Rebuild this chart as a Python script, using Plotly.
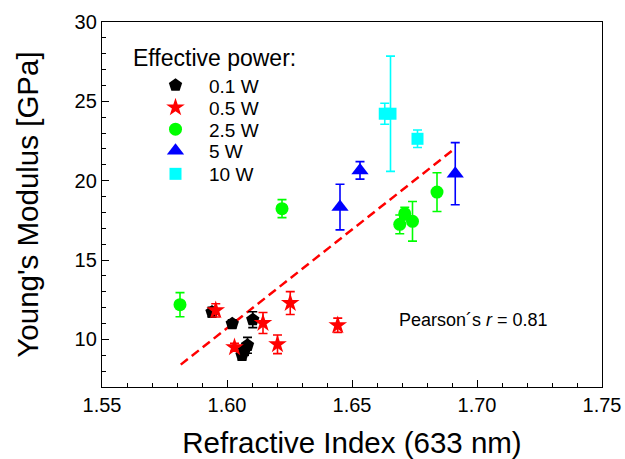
import plotly.graph_objects as go

# ---- data ----
x_01 = [1.5940, 1.6021, 1.6103, 1.6060, 1.6070, 1.6082]
y_01 = [11.72, 10.99, 11.24, 9.00, 9.30, 9.63]
e_01 = [0.30, 0.25, 0.50, 0.30, 0.30, 0.50]

x_05 = [1.5955, 1.6030, 1.6144, 1.6202, 1.6253, 1.6443]
y_05 = [11.83, 9.50, 11.03, 9.69, 12.29, 10.89]
e_05 = [0.42, 0.25, 0.66, 0.59, 0.72, 0.45]

x_25 = [1.5812, 1.6220, 1.6691, 1.6711, 1.6742, 1.6840]
y_25 = [12.19, 18.24, 17.25, 17.92, 17.44, 19.28]
e_25 = [0.76, 0.57, 0.59, 0.40, 1.25, 1.22]

x_5 = [1.6452, 1.6532, 1.6913]
y_5 = [18.34, 20.65, 20.44]
e_5 = [1.44, 0.55, 1.96]

x_10 = [1.6631, 1.6654, 1.6762]
y_10 = [24.22, 24.22, 22.64]
e_10 = [0.66, 3.63, 0.55]

fit_x = [1.5815, 1.6910]
fit_y = [8.41, 22.01]

series = [
    ("0.1 W", x_01, y_01, e_01, "black", "pentagon", 14),
    ("0.5 W", x_05, y_05, e_05, "#ff0000", "star", 14),
    ("2.5 W", x_25, y_25, e_25, "#00ff00", "circle", 13),
    ("5 W", x_5, y_5, e_5, "#0000ff", "triangle-up", 15),
    ("10 W", x_10, y_10, e_10, "#00ffff", "square", 12),
]
legend_ids = ["legend", "legend2", "legend3", "legend4", "legend5"]
legend_rows = [0.8266, 0.7655, 0.7060, 0.6466, 0.5836]

FONT = "Arial, Liberation Sans, sans-serif"

fig = go.Figure()
fig.add_trace(go.Scatter(x=fit_x, y=fit_y, mode="lines", showlegend=False,
                         line=dict(color="#ff0000", width=2.5, dash="9px,5px")))
for (name, xs, ys, es, col, sym, sz), lid in zip(series, legend_ids):
    fig.add_trace(go.Scatter(
        x=xs, y=ys, mode="markers", name=name, legend=lid,
        marker=dict(symbol=sym, color=col, size=sz, line=dict(width=0)),
        error_y=dict(type="data", array=es, visible=True, color=col,
                     thickness=1.6, width=4.5),
    ))

fig.add_annotation(x=1.6985, y=11.2, xref="x", yref="y",
                   text="Pearson´s <i>r</i> = 0.81", showarrow=False,
                   font=dict(family=FONT, size=18, color="black"))

fig.add_annotation(x=0.058, y=0.9005, xref="paper", yref="paper",
                   xanchor="left", yanchor="middle",
                   text="Effective power:", showarrow=False,
                   font=dict(family=FONT, size=23, color="black"))

axis_common = dict(
    showline=True, linecolor="black", linewidth=1.4, mirror=True,
    ticks="inside", ticklen=7, tickwidth=1.4, tickcolor="black",
    showgrid=False, zeroline=False,
    tickfont=dict(family=FONT, size=20, color="black"),
)

fig.update_xaxes(
    range=[1.55, 1.75], dtick=0.05, tick0=1.55, tickformat=".2f",
    minor=dict(dtick=0.01, ticks="inside", ticklen=3.5, tickwidth=1.2, tickcolor="black"),
    title=dict(text="Refractive Index (633 nm)", font=dict(family=FONT, size=29.5, color="black"),
               standoff=25),
    automargin=False, **axis_common)
fig.update_yaxes(
    range=[7, 30], tickvals=[10, 15, 20, 25, 30],
    minor=dict(tickvals=list(range(8, 30)), ticks="inside", ticklen=3.5, tickwidth=1.2, tickcolor="black"),
    title=dict(text="Young's Modulus [GPa]", font=dict(family=FONT, size=29.5, color="black"),
               standoff=27),
    automargin=False, **axis_common)

legend_layout = {}
for lid, ly in zip(legend_ids, legend_rows):
    legend_layout[lid] = dict(
        x=0.08, y=ly, xanchor="left", yanchor="middle",
        font=dict(family=FONT, size=19, color="black"),
        bgcolor="rgba(0,0,0,0)", itemwidth=57,
    )

fig.update_layout(
    width=625, height=459,
    margin=dict(l=102, r=23, t=22, b=72),
    paper_bgcolor="white", plot_bgcolor="white",
    font=dict(family=FONT, color="black"),
    **legend_layout,
)

fig.write_html("out.html")
